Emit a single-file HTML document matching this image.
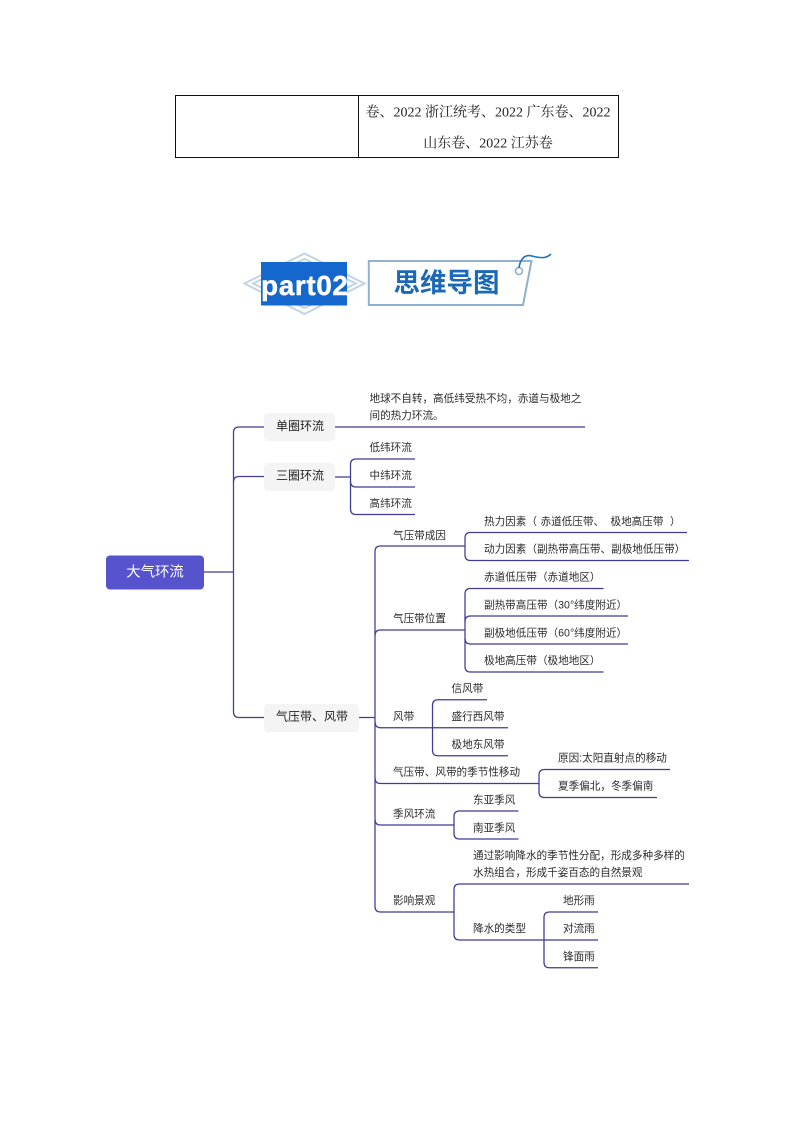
<!DOCTYPE html>
<html lang="zh">
<head>
<meta charset="utf-8">
<title>大气环流</title>
<style>
html,body{margin:0;padding:0;background:#fff;}
body{width:794px;height:1123px;overflow:hidden;}
svg{display:block;}
text{dominant-baseline:central;}
.m{font-family:"Liberation Sans","Noto Sans CJK SC",sans-serif;font-size:10.6px;fill:#2b2b2b;}
.n{font-family:"Liberation Sans","Noto Sans CJK SC",sans-serif;font-size:12px;fill:#222;}
.t{font-family:"Liberation Serif","Noto Serif CJK SC",serif;font-size:14px;fill:#222;text-anchor:middle;}
.l{fill:none;stroke:#3f3b98;stroke-width:1.25;}
</style>
</head>
<body>
<svg width="794" height="1123" viewBox="0 0 794 1123" xmlns="http://www.w3.org/2000/svg">
<rect width="794" height="1123" fill="#fff"/>

<!-- table -->
<rect x="175.5" y="95.5" width="443" height="62" fill="none" stroke="#111" stroke-width="1"/>
<line x1="358.5" y1="95.5" x2="358.5" y2="157.5" stroke="#111" stroke-width="1"/>
<text class="t" x="488" y="113">卷、2022 浙江统考、2022 广东卷、2022</text>
<text class="t" x="488" y="144">山东卷、2022 江苏卷</text>

<!-- banner -->
<g fill="none" stroke="#c3d3e4" stroke-width="2">
<polygon points="244.5,283.5 304.5,253.5 364.5,283.5 304.5,314"/>
<polygon points="253,283.5 304.5,259 356,283.5 304.5,308"/>
</g>
<rect x="261" y="262" width="86" height="43.5" fill="#1467cc"/>
<text x="261" y="295" style="dominant-baseline:auto" textLength="87" lengthAdjust="spacing" font-family="'Liberation Sans',sans-serif" font-weight="700" font-size="28px" fill="#fff" stroke="#fff" stroke-width="0.4">part02</text>
<polygon points="368.8,261 531.5,261 523,305 368.8,305" fill="#fff" stroke="#8fb0cf" stroke-width="2"/>
<text x="446.5" y="283" text-anchor="middle" font-family="'Liberation Sans','Noto Sans CJK SC',sans-serif" font-weight="700" font-size="26.5px" fill="#1a68b8">思维导图</text>
<circle cx="519" cy="271" r="3.5" fill="#fff" stroke="#8fb0cf" stroke-width="1.6"/>
<path d="M519 268 C520 259 525 254 532 256 C540 258 546 259 551 254" fill="none" stroke="#1f73b8" stroke-width="1.6"/>

<!-- connectors -->
<g class="l">
<path d="M204 572H233.5"/>
<path d="M264 427H239Q233.5 427 233.5 432.5V712Q233.5 717.5 239 717.5H264"/>
<path d="M233.5 482Q233.5 476.5 239 476.5H264"/>
<path d="M335 427H585"/>
<!-- 三圈 -->
<path d="M335 477H350.5"/>
<path d="M415 459H356Q350.5 459 350.5 464.5V509Q350.5 514.5 356 514.5H415"/>
<path d="M350.5 481.5Q350.5 487 356 487H415"/>
<!-- 气压带 trunk -->
<path d="M359 717.5H375"/>
<path d="M465 546H380.5Q375 546 375 551.5V906.5Q375 912 380.5 912H454"/>
<!-- 成因 -->
<path d="M687 532.5H470.5Q465 532.5 465 538V555Q465 560.5 470.5 560.5H689"/>
<!-- 位置 -->
<path d="M375 635.5Q375 630 380.5 630H465"/>
<path d="M603.5 588.5H470.5Q465 588.5 465 594V666.5Q465 672 470.5 672H603.5"/>
<path d="M465 621.5Q465 616 470.5 616H628"/>
<path d="M465 638.5Q465 644 470.5 644H628"/>
<!-- 风带 -->
<path d="M375 722Q375 727.7 380.5 727.7H508"/>
<path d="M487 699.7H438Q432.5 699.7 432.5 705.2V750.2Q432.5 755.7 438 755.7H508"/>
<!-- 季节性 -->
<path d="M375 778Q375 783.5 380.5 783.5H539"/>
<path d="M670 769.5H544.5Q539 769.5 539 775V792Q539 797.5 544.5 797.5H657"/>
<!-- 季风 -->
<path d="M375 819.5Q375 825 380.5 825H454"/>
<path d="M518.5 811H459.5Q454 811 454 816.5V833.5Q454 839 459.5 839H518.5"/>
<!-- 影响景观 -->
<path d="M689 884H459.5Q454 884 454 889.5V934.5Q454 940 459.5 940H598"/>
<path d="M598 912H549.5Q544 912 544 917.5V962.2Q544 967.7 549.5 967.7H598"/>
</g>

<!-- root -->
<rect x="106" y="555.5" width="98" height="34" rx="4" fill="#5653cc"/>
<text x="155" y="572.5" text-anchor="middle" font-family="'Liberation Sans','Noto Sans CJK SC',sans-serif" font-size="14.4px" fill="#fff">大气环流</text>

<!-- level 1 -->
<rect x="264" y="413" width="71" height="28" rx="4" fill="#f4f4f4"/>
<rect x="264" y="463" width="71" height="28" rx="4" fill="#f4f4f4"/>
<rect x="264" y="704" width="95" height="28" rx="4" fill="#f4f4f4"/>
<text class="n" x="276" y="426">单圈环流</text>
<text class="n" x="276" y="475.5">三圈环流</text>
<text class="n" x="276" y="716.5">气压带、风带</text>

<!-- labels -->
<g class="m" transform="translate(0,1)">
<text x="369.5" y="398">地球不自转，高低纬受热不均，赤道与极地之</text>
<text x="369.5" y="415">间的热力环流。</text>
<text x="369.5" y="447">低纬环流</text>
<text x="369.5" y="475">中纬环流</text>
<text x="369.5" y="503">高纬环流</text>

<text x="393" y="535">气压带成因</text>
<text x="484" y="521">热力因素（</text>
<text x="540.5" y="521">赤道低压带、</text>
<text x="610.5" y="521">极地高压带</text>
<text x="670" y="521">）</text>
<text x="484" y="548.5">动力因素（副热带高压带、副极地低压带）</text>

<text x="393" y="618">气压带位置</text>
<text x="484" y="576.5">赤道低压带（赤道地区）</text>
<text x="484" y="604.5">副热带高压带（30°纬度附近）</text>
<text x="484" y="632.5">副极地低压带（60°纬度附近）</text>
<text x="484" y="660">极地高压带（极地地区）</text>

<text x="393" y="716">风带</text>
<text x="451.5" y="688">信风带</text>
<text x="451.5" y="716">盛行西风带</text>
<text x="451.5" y="744">极地东风带</text>

<text x="393" y="771.5">气压带、风带的季节性移动</text>
<text x="558" y="757.5">原因:太阳直射点的移动</text>
<text x="558" y="785.5">夏季偏北，冬季偏南</text>

<text x="393" y="813.5">季风环流</text>
<text x="473" y="799.5">东亚季风</text>
<text x="473" y="827.5">南亚季风</text>

<text x="393" y="900">影响景观</text>
<text x="473" y="855">通过影响降水的季节性分配，形成多种多样的</text>
<text x="473" y="872">水热组合，形成千姿百态的自然景观</text>
<text x="473" y="928">降水的类型</text>
<text x="563" y="900">地形雨</text>
<text x="563" y="928">对流雨</text>
<text x="563" y="956">锋面雨</text>
</g>
</svg>
</body>
</html>
